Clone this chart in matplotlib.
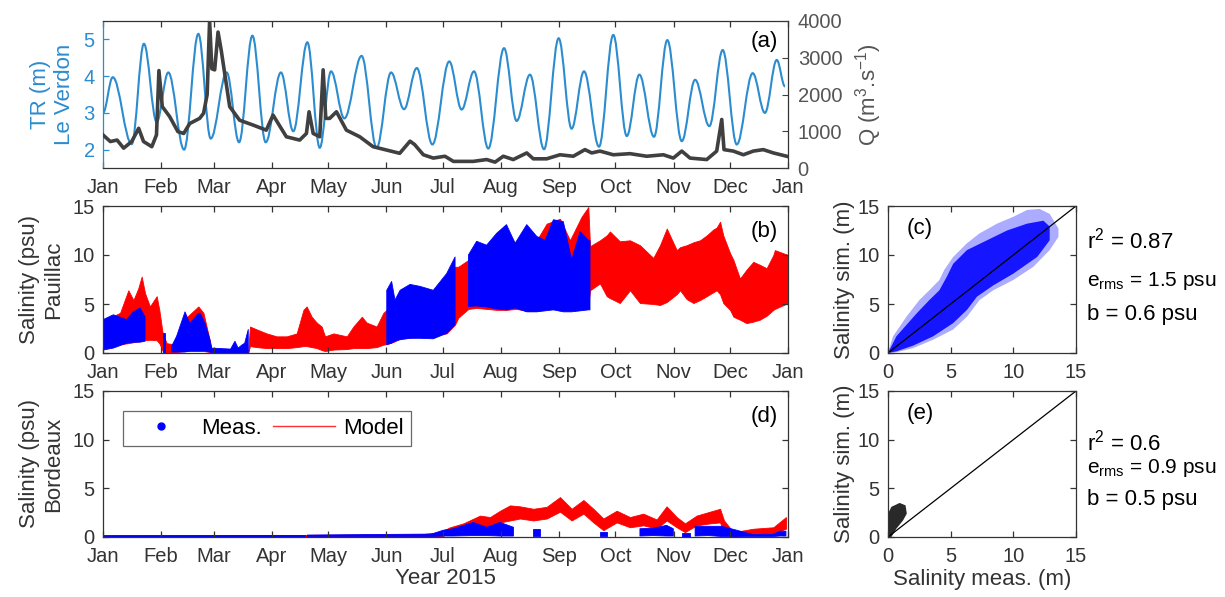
import numpy as np
import matplotlib
matplotlib.use('Agg')
import matplotlib.pyplot as plt
from matplotlib.path import Path
from matplotlib.patches import PathPatch

plt.rcParams['font.family'] = ['Liberation Sans', 'DejaVu Sans']
plt.rcParams['mathtext.fontset'] = 'custom'
plt.rcParams['mathtext.rm'] = 'Liberation Sans'
plt.rcParams['mathtext.it'] = 'Liberation Sans'
plt.rcParams['mathtext.default'] = 'regular'

# month ticks (day of year 2015)
month_days = [0, 31, 59, 90, 120, 151, 181, 212, 243, 273, 304, 334, 365]
month_labels = ['Jan', 'Feb', 'Mar', 'Apr', 'May', 'Jun', 'Jul', 'Aug', 'Sep', 'Oct', 'Nov', 'Dec', 'Jan']

# (a) tidal range at Le Verdon (peaks / troughs)
tr_day = [0, 5.2, 15.3, 21.8, 28.6, 34.8, 43.2, 50.8, 57.4, 65.9, 72.5, 79.6, 86.7, 94.8, 101.4,
          108.9, 115.5, 121.5, 128.6, 137.8, 145.8, 153.5, 160.4, 167.2, 175.5, 184.5, 191.1, 197.7,
          205.3, 213.7, 220.4, 227.5, 235.0, 242.8, 249.7, 256.3, 264.3, 271.9, 279.1, 285.8, 293.6,
          300.7, 308.4, 315.5, 323.1, 330.2, 337.7, 346.2, 352.7, 359.0, 363.4]
tr_val = [3.0, 3.97, 2.15, 4.88, 2.75, 4.1, 2.0, 5.15, 2.3, 4.1, 2.2, 5.1, 2.2, 4.1, 2.5,
          4.92, 2.05, 4.13, 2.85, 4.55, 2.05, 4.1, 3.1, 4.22, 2.14, 4.4, 3.09, 4.13,
          2.03, 4.76, 2.78, 4.04, 2.01, 5.03, 2.57, 4.13, 2.08, 5.12, 2.37, 4.04, 2.35,
          4.98, 2.23, 3.9, 2.64, 4.71, 2.14, 4.08, 3.0, 4.44, 3.72]

# (a) river discharge
q_day = [0, 3.9, 7.5, 11, 15.3, 19, 21.6, 26, 28.5, 29.8, 31.6, 35.5, 39.9, 43, 46.2,
         51.5, 53.6, 55.5, 56.8, 58, 59.5, 61.3, 63, 67.5, 72.8, 79.9, 87, 90.6, 97.7, 104.8,
         108.4, 109.8, 112, 115.5, 117.3, 118.7, 120.8, 124.4, 129.7, 136.8, 143.9, 151, 158.1, 163.6, 166,
         170.7, 176, 182.2, 186.7, 197.3, 204.4, 208.9, 213.3, 218.6, 225.8, 229.3, 236.4, 243.5, 250.6, 256.8,
         260.4, 264.8, 271.9, 280.8, 289.7, 298.6, 303.9, 308.4, 312.8, 321.7, 327, 329.7, 330.9, 335.9, 341.2,
         346.5, 351.8, 357.2, 364.3]
q_val = [900, 720, 760, 540, 720, 1080, 720, 580, 900, 2650, 1670, 1400, 990, 940, 1210,
         1350, 1490, 2000, 4000, 2700, 2670, 3700, 3200, 1670, 1300, 1170, 1030, 1440, 850, 760,
         940, 1530, 940, 850, 2670, 1350, 1350, 1530, 1030, 850, 580, 490, 400, 730, 640,
         360, 270, 320, 180, 180, 230, 160, 320, 230, 410, 250, 250, 360, 320, 500,
         410, 460, 360, 390, 320, 360, 270, 460, 270, 230, 460, 1320, 500, 460, 360,
         460, 500, 410, 320]

# (b) Pauillac - model envelope
pa_mod_day = [0, 3.7, 9.1, 13.5, 16.2, 18.8, 20.6, 22.4, 25.0, 28.6, 30.0, 31.8, 33.9, 37.5, 39.2,
              43.7, 50.8, 53.5, 57.0, 57.9, 77.4, 78.3, 82.0, 87.2, 92.5, 97.9, 103.2, 106.8, 108.5,
              111.2, 113.9, 116.5, 118.3, 122.8, 129.9, 133.4, 137.9, 140.5, 145.8, 149.4, 151.2, 155.6,
              158.3, 165.4, 176, 183.1, 187.6, 189.3, 194.7, 199.1, 209.7, 215, 220.4, 225.8, 231.1,
              236.4, 243.5, 248.8, 255, 258.6, 259.5, 264.8, 268.4, 270.1, 275.4, 280.8, 286.1, 293.2,
              296.8, 300.4, 305.7, 307.5, 311.0, 314.6, 318.1, 321.7, 325.2, 327.0, 328.8, 330.5, 334.1,
              335.9, 339.4, 342.9, 346.5, 350, 353.6, 357.2, 358, 365]
pa_mod_lo = [0.7, 0.7, 0.9, 1.0, 1.1, 1.2, 1.3, 1.3, 1.35, 1.3, 1.0, 0.2, 0.0, 0.0, 0.1,
             0.2, 0.2, 0.2, 0.1, 0.0, 0.0, 0.7, 0.6, 0.5, 0.5, 0.5, 0.6, 0.7, 0.7,
             0.6, 0.5, 0.3, 0.2, 0.35, 0.4, 0.5, 0.5, 0.5, 0.6, 0.85, 0.9, 1.2,
             1.5, 1.6, 1.8, 2.0, 2.9, 3.6, 4.5, 4.6, 4.4, 4.4, 4.5, 4.3, 4.3,
             4.5, 4.6, 4.6, 4.7, 4.8, 6.4, 7.1, 5.8, 5.6, 5.1, 6.4, 5.1, 5.0,
             4.9, 5.2, 6.0, 6.4, 5.5, 5.1, 5.4, 5.8, 6.2, 6.4, 6.0, 5.1, 4.4,
             3.7, 3.4, 3.05, 3.2, 3.4, 3.8, 4.4, 4.5, 5.1]
pa_mod_hi = [2.7, 3.6, 4.1, 6.4, 5.4, 6.6, 7.8, 6.1, 4.75, 5.8, 4.4, 2.0, 1.0, 0.9, 1.5,
             3.5, 4.75, 4.1, 1.2, 0.3, 0.3, 2.7, 2.4, 2.0, 1.7, 1.7, 2.0, 4.4, 4.75,
             3.7, 3.1, 2.7, 1.7, 2.0, 1.7, 2.7, 3.7, 3.1, 2.7, 4.1, 4.4, 5.0,
             6.0, 6.5, 6.3, 7.5, 8.8, 8.8, 9.5, 10.5, 11.5, 12.5, 11.0, 12.5, 11.5,
             13.2, 13.7, 11.5, 13.9, 14.9, 10.9, 11.5, 12.0, 12.4, 11.4, 11.5, 11.0, 9.7,
             11.0, 12.7, 10.5, 10.8, 11.0, 11.3, 11.5, 12.0, 12.6, 12.8, 13.4, 12.0, 10.2,
             9.5, 7.6, 8.5, 9.3, 9.0, 8.65, 10.0, 10.5, 10.0]

# (b) Pauillac - measurement envelope (nan = no data)
nan = np.nan
pa_obs_day = [0, 5.5, 12.6, 16.2, 19.7, 22.4, 22.5, 31.8, 33.0, 33.1, 36.6, 39.2, 43.7, 46.3, 50.1,
              51.7, 54.4, 57.0, 57.9, 68, 70.3, 72, 73.9, 75.5, 77.4, 77.5, 151.2, 153.8, 155.6,
              158.3, 163.6, 168.9, 176, 183.1, 187.6, 187.7, 194.7, 199.1, 204.4, 209.7, 215, 219.6,
              225.8, 231.1, 235.6, 240, 245.3, 249.7, 254.2, 258.6, 259.5]
pa_obs_lo = [0.3, 0.5, 1.0, 1.1, 1.1, 1.2, nan, 0.0, 0.0, nan, 0.1, 0.1, 0.1, 0.2, 0.2,
             0.2, 0.2, 0.1, 0.0, 0.0, 0.0, 0.0, 0.0, 0.0, 0.0, nan, 0.85, 1.0, 1.2,
             1.35, 1.5, 1.5, 1.45, 2.0, 2.9, nan, 4.75, 4.8, 4.7, 4.5, 4.4, 4.6,
             4.2, 4.2, 4.3, 4.4, 4.2, 4.2, 4.3, 4.4, 4.4]
pa_obs_hi = [3.4, 3.9, 3.4, 4.2, 4.6, 3.7, nan, 2.0, 2.0, nan, 0.7, 1.7, 4.2, 3.0, 3.9,
             4.1, 3.0, 1.35, 0.5, 0.4, 1.2, 0.5, 0.8, 1.0, 2.4, nan, 6.4, 7.3, 5.4,
             6.4, 7.0, 6.8, 6.4, 8.1, 9.8, nan, 10.0, 11.4, 11.0, 12.2, 13.1, 11.2,
             13.1, 11.9, 11.5, 13.6, 13.4, 9.5, 12.4, 11.5, 11.5]

# (d) Bordeaux - model envelope
bx_mod_day = [0, 168.9, 179.6, 184.9, 192.0, 200.9, 206.2, 211.6, 216.9, 222.2, 229.3, 236.4, 243.5,
              249.7, 256.0, 261.3, 266.6, 273.7, 280.8, 287.9, 295.0, 300.3, 305.7, 310.1, 316.3,
              323.4, 328.8, 330.9, 335.9, 346.5, 357.2, 363.9]
bx_mod_lo = [0.0, 0.0, 0.07, 0.35, 0.5, 1.0, 1.0, 1.5, 1.7, 1.9, 1.7, 1.9, 2.6,
             1.7, 2.4, 1.5, 0.7, 1.5, 1.0, 1.2, 0.85, 1.7, 1.0, 0.5, 1.2,
             1.4, 1.5, 0.35, 0.07, 0.27, 0.4, 0.85]
bx_mod_hi = [0.12, 0.27, 0.5, 1.0, 1.4, 2.2, 2.05, 2.7, 3.25, 3.15, 2.9, 3.1, 4.1,
             2.9, 3.8, 2.9, 1.9, 2.7, 2.05, 2.4, 1.8, 3.15, 2.05, 1.4, 2.2,
             2.6, 2.9, 1.7, 0.5, 0.85, 1.0, 2.05]

# (d) Bordeaux - measurement envelope
bx_obs_day = [0, 107.5, 107.6, 108.8, 108.9, 175, 181.4, 186.7, 197.3, 204.4, 211.6, 218.7, 218.8,
              229.3, 232.8, 232.9, 264.8, 268.4, 268.5, 286.1, 293.2, 300.3, 303.9, 304.0, 308.4,
              312.8, 312.9, 315.5, 322.6, 329.7, 346.5, 357.2, 360.8, 363.9]
bx_obs_lo = [0.05, 0.05, nan, nan, 0.05, 0.05, 0.1, 0.1, 0.15, 0.15, 0.1, 0.1, nan,
             0.15, 0.15, nan, 0.1, 0.1, nan, 0.1, 0.15, 0.1, 0.1, nan, 0.05,
             0.05, nan, 0.1, 0.15, 0.05, 0.05, 0.05, 0.1, 0.1]
bx_obs_hi = [0.2, 0.2, nan, nan, 0.2, 0.3, 0.7, 0.85, 1.5, 1.0, 1.5, 1.0, nan,
             0.8, 0.8, nan, 0.5, 0.5, nan, 0.85, 0.9, 1.2, 0.85, nan, 0.4,
             0.4, nan, 1.1, 1.1, 1.1, 0.25, 0.3, 0.6, 0.6]

# (c) scatter cloud at Pauillac (outer halo and dense core outlines)
c_halo_x = [0, 0.4, 1.47, 2.5, 3.3, 4.1, 4.5, 5.2, 6.3, 7.3, 8.7, 10.0, 11.1, 12.1, 12.9, 13.6, 13.6,
            12.9, 11.6, 10.0, 8.4, 7.3, 6.3, 5.2, 3.6, 2.0, 0.67]
c_halo_y = [0, 1.7, 3.7, 5.4, 6.4, 7.45, 8.5, 9.8, 11.2, 12.2, 13.2, 13.9, 14.6, 14.7, 14.2, 12.7, 11.85,
            10.5, 8.8, 7.45, 6.4, 5.4, 3.7, 2.4, 1.35, 0.5, 0.07]
c_core_x = [0, 0.67, 2.3, 3.3, 4.1, 4.7, 5.2, 6.3, 7.9, 9.5, 11.1, 12.4, 12.9, 12.9,
            11.9, 10.0, 8.4, 7.1, 6.3, 5.2, 3.6, 2.0, 0.67]
c_core_y = [0, 1.7, 4.06, 5.4, 6.4, 7.8, 9.1, 10.5, 11.5, 12.5, 13.2, 13.5, 12.9, 11.5,
            9.8, 8.1, 6.9, 5.75, 4.4, 3.05, 1.7, 0.75, 0.17]

# (e) scatter cloud at Bordeaux
e_cloud_x = [0, 0.0, 0.27, 0.93, 1.4, 1.5, 1.2, 0.67, 0.27]
e_cloud_y = [0, 2.4, 3.1, 3.5, 3.25, 2.4, 1.7, 0.86, 0.0]

stats_c = ['r$^2$ = 0.87', 'e$_{rms}$ = 1.5 psu', 'b = 0.6 psu']
stats_e = ['r$^2$ = 0.6', 'e$_{rms}$ = 0.9 psu', 'b = 0.5 psu']

blue_tr = '#2b8ccf'
gray_q = '#404040'
axc = '#333333'
fs_tick = 14.5
fs_lab = 16
fs_pan = 16
fs_stat = [16, 15, 16]

W, H = 1225, 597
fig = plt.figure(figsize=(W / 100, H / 100), dpi=100)


def box(l, t, r, b):
    return [l / W, 1 - b / H, (r - l) / W, (b - t) / H]


def style(ax):
    for s in ax.spines.values():
        s.set_color(axc)
        s.set_linewidth(0.9)
    ax.tick_params(direction='in', length=4, width=0.9, colors=axc, labelsize=fs_tick,
                   top=True, right=True)
    ax.tick_params(axis='x', pad=7)
    ax.tick_params(axis='y', pad=6)


def time_axis(ax):
    ax.set_xlim(0, 365)
    ax.set_xticks(month_days)
    ax.set_xticklabels(month_labels)


def smooth_line(ax, xs, ys, **kw):
    # cubic Bezier through the read extremes, flat tangent at each one
    verts = [(xs[0], ys[0])]
    codes = [Path.MOVETO]
    for x0, y0, x1, y1 in zip(xs[:-1], ys[:-1], xs[1:], ys[1:]):
        dx = (x1 - x0) * 0.364
        verts += [(x0 + dx, y0), (x1 - dx, y1), (x1, y1)]
        codes += [Path.CURVE4] * 3
    ax.add_patch(PathPatch(Path(verts, codes), fill=False, **kw))


# ---------------- (a)
ax_a = fig.add_axes(box(103, 21, 788, 168))
style(ax_a)
smooth_line(ax_a, tr_day, tr_val, edgecolor=blue_tr, lw=1.5)
time_axis(ax_a)
ax_a.set_ylim(1.5, 5.5)
ax_a.set_yticks([2, 3, 4, 5])
ax_a.tick_params(axis='y', colors=blue_tr, labelcolor=blue_tr)
ax_a.spines['left'].set_color(blue_tr)
ax_a.set_ylabel('TR (m)\nLe Verdon', color=blue_tr, fontsize=fs_lab, linespacing=1.2, labelpad=6)
ax_q = ax_a.twinx()
ax_q.plot(q_day, q_val, color=gray_q, lw=2.6)
ax_q.set_ylim(0, 4000)
ax_q.set_yticks([0, 1000, 2000, 3000, 4000])
for s in ax_q.spines.values():
    s.set_visible(False)
ax_q.tick_params(axis='y', direction='in', length=4, colors=gray_q, labelcolor='#555555',
                 labelsize=fs_tick, pad=7)
ax_q.set_ylabel('Q (m$^3$.s$^{-1}$)', color='#555555', fontsize=fs_lab, labelpad=8)
ax_a.text(0.985, 0.93, '(a)', transform=ax_a.transAxes, ha='right', va='top', fontsize=fs_pan, color='k')

# ---------------- (b)
ax_b = fig.add_axes(box(103, 206, 788, 353))
style(ax_b)
ax_b.fill_between(pa_mod_day, pa_mod_lo, pa_mod_hi, color='#ff0000', lw=0.6, edgecolor='#ff0000')
ax_b.fill_between(pa_obs_day, pa_obs_lo, pa_obs_hi, color='#0000ff', lw=0.6, edgecolor='#0000ff')
time_axis(ax_b)
ax_b.set_ylim(0, 15)
ax_b.set_yticks([0, 5, 10, 15])
ax_b.set_ylabel('Salinity (psu)\nPauillac', fontsize=fs_lab, color=axc, linespacing=1.2, labelpad=6)
ax_b.text(0.985, 0.9, '(b)', transform=ax_b.transAxes, ha='right', va='top', fontsize=fs_pan, color='k')

# ---------------- (d)
ax_d = fig.add_axes(box(103, 391, 788, 537))
style(ax_d)
ax_d.fill_between(bx_mod_day, bx_mod_lo, bx_mod_hi, color='#ff0000', lw=0.6, edgecolor='#ff0000')
ax_d.fill_between(bx_obs_day, bx_obs_lo, bx_obs_hi, color='#0000ff', lw=0.6, edgecolor='#0000ff')
time_axis(ax_d)
ax_d.set_ylim(0, 15)
ax_d.set_yticks([0, 5, 10, 15])
ax_d.set_ylabel('Salinity (psu)\nBordeaux', fontsize=fs_lab, color=axc, linespacing=1.2, labelpad=6)
ax_d.set_xlabel('Year 2015', fontsize=fs_lab, color=axc, labelpad=2)
ax_d.text(0.985, 0.9, '(d)', transform=ax_d.transAxes, ha='right', va='top', fontsize=fs_pan, color='k')
h1, = ax_d.plot([], [], 'o', color='#0000ff', ms=5, label='Meas.')
h2, = ax_d.plot([], [], '-', color='#ff3030', lw=1, label='Model')
leg = ax_d.legend(handles=[h1, h2], ncol=2, loc='upper left', bbox_to_anchor=(0.029, 0.86),
                  borderaxespad=0, fontsize=fs_lab, frameon=True, fancybox=False, handlelength=2.8,
                  columnspacing=0.5, borderpad=0.3, handletextpad=0.4)
leg.get_frame().set_edgecolor('#444444')
leg.get_frame().set_linewidth(0.9)

# ---------------- (c)
ax_c = fig.add_axes(box(888, 206, 1076, 353))
style(ax_c)
ax_c.fill(c_halo_x, c_halo_y, color='#0000ff', alpha=0.33, lw=0)
ax_c.fill(c_core_x, c_core_y, color='#0000ff', alpha=0.88, lw=0)
ax_c.plot([0, 15], [0, 15], color='k', lw=0.9)
ax_c.set_xlim(0, 15)
ax_c.set_ylim(0, 15)
ax_c.set_xticks([0, 5, 10, 15])
ax_c.set_yticks([0, 5, 10, 15])
ax_c.set_ylabel('Salinity sim. (m)', fontsize=fs_lab, color=axc, labelpad=2)
ax_c.text(0.1, 0.92, '(c)', transform=ax_c.transAxes, ha='left', va='top', fontsize=fs_pan, color='k')
for s, y, f in zip(stats_c, [248, 286, 320], fs_stat):
    fig.text(1087 / W, 1 - y / H, s, fontsize=f, color='k', va='baseline')

# ---------------- (e)
ax_e = fig.add_axes(box(888, 391, 1076, 537))
style(ax_e)
ax_e.fill(e_cloud_x, e_cloud_y, color='#111111', alpha=0.9, lw=0)
ax_e.plot([0, 15], [0, 15], color='k', lw=0.9)
ax_e.set_xlim(0, 15)
ax_e.set_ylim(0, 15)
ax_e.set_xticks([0, 5, 10, 15])
ax_e.set_yticks([0, 5, 10, 15])
ax_e.set_ylabel('Salinity sim. (m)', fontsize=fs_lab, color=axc, labelpad=2)
ax_e.set_xlabel('Salinity meas. (m)', fontsize=fs_lab, color=axc, labelpad=2)
ax_e.text(0.1, 0.92, '(e)', transform=ax_e.transAxes, ha='left', va='top', fontsize=fs_pan, color='k')
for s, y, f in zip(stats_e, [450, 473, 505], fs_stat):
    fig.text(1087 / W, 1 - y / H, s, fontsize=f, color='k', va='baseline')

fig.savefig('out.png', dpi=100, facecolor='white')
